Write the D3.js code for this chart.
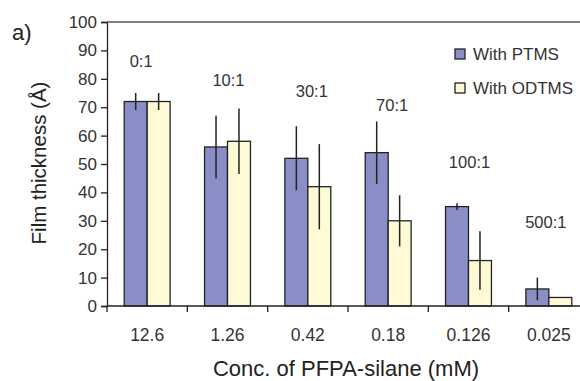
<!DOCTYPE html>
<html>
<head>
<meta charset="utf-8">
<script src="https://cdn.jsdelivr.net/npm/d3@7"></script>
<style>
  body { margin: 0; background: #fff; }
  svg { display: block; font-family: Arial, "Liberation Sans", sans-serif; }
</style>
</head>
<body>
<div class="container"></div>
<script>
// data
const concentrations = ['12.6', '1.26', '0.42', '0.18', '0.126', '0.025'];
const ratios = ['0:1', '10:1', '30:1', '70:1', '100:1', '500:1'];
const series = ['With PTMS', 'With ODTMS'];
const ptms = [72, 56, 52, 54, 35, 6];
const ptmsErr = [3, 11, 11.3, 11, 1.2, 4];
const odtms = [72, 58, 42, 30, 16, 3];
const odtmsErr = [3, 11.5, 15, 9, 10.3, 0];
const yTicks = [0, 10, 20, 30, 40, 50, 60, 70, 80, 90, 100];

const width = 580, height = 381;
const margin = {top: 22, right: -9, bottom: 75, left: 107};
const colors = ['#8a8ec6', '#fffad6'];
const ink = '#222';
const textCol = '#333';

const svg = d3.select('.container')
    .append('svg')
    .attr('width', width)
    .attr('height', height);

const x = d3.scaleBand()
    .domain(concentrations)
    .range([margin.left, width - margin.right])
    .paddingInner(0)
    .paddingOuter(0);

const xInner = d3.scaleBand()
    .domain(series)
    .range([0, x.bandwidth()])
    .paddingOuter(0.75)
    .paddingInner(0);

const y = d3.scaleLinear()
    .domain([0, 100])
    .range([height - margin.bottom, margin.top]);

const rows = concentrations.map((c, i) => ({
    c,
    ratio: ratios[i],
    vals: [
        {s: series[0], v: ptms[i], e: ptmsErr[i]},
        {s: series[1], v: odtms[i], e: odtmsErr[i]}
    ]
}));

// bars
const group = svg.append('g')
    .selectAll('g')
    .data(rows)
    .join('g')
    .attr('transform', d => `translate(${x(d.c)},0)`);

group.selectAll('rect')
    .data(d => d.vals)
    .join('rect')
    .attr('x', d => xInner(d.s))
    .attr('y', d => y(d.v))
    .attr('width', xInner.bandwidth())
    .attr('height', d => y(0) - y(d.v))
    .attr('fill', (d, i) => colors[i])
    .attr('stroke', ink)
    .attr('stroke-width', 1.3);

// error bars
group.selectAll('line.err')
    .data(d => d.vals.filter(v => v.e > 0))
    .join('line')
    .attr('class', 'err')
    .attr('x1', d => xInner(d.s) + xInner.bandwidth() / 2)
    .attr('x2', d => xInner(d.s) + xInner.bandwidth() / 2)
    .attr('y1', d => y(d.v + d.e))
    .attr('y2', d => y(d.v - d.e))
    .attr('stroke', ink)
    .attr('stroke-width', 1.5);

// ratio labels above each group (hand placed, as in the figure)
const labelDx = [-6, 1, 4, 4, 1, -3];
const labelY = [67, 86, 97, 111, 168, 228];
group.append('text')
    .attr('x', (d, i) => x.bandwidth() / 2 + labelDx[i])
    .attr('y', (d, i) => labelY[i])
    .attr('text-anchor', 'middle')
    .attr('font-size', 16.5)
    .attr('fill', textCol)
    .text(d => d.ratio);

// y axis
const yAxis = svg.append('g')
    .attr('transform', `translate(${margin.left},0)`)
    .call(d3.axisLeft(y).tickValues(yTicks).tickSize(6).tickPadding(4));
yAxis.select('.domain').attr('stroke', ink).attr('stroke-width', 1.3);
yAxis.selectAll('.tick line').attr('stroke', ink).attr('stroke-width', 1.3);
yAxis.selectAll('.tick text')
    .attr('font-size', 17)
    .attr('fill', textCol)
    .attr('font-family', 'Arial, "Liberation Sans", sans-serif');

// x axis: ticks between categories
const xAxis = svg.append('g')
    .attr('transform', `translate(0,${y(0)})`);
xAxis.append('line')
    .attr('x1', margin.left)
    .attr('x2', width)
    .attr('stroke', ink)
    .attr('stroke-width', 1.3);
xAxis.selectAll('line.tick')
    .data(concentrations)
    .join('line')
    .attr('class', 'tick')
    .attr('x1', d => x(d))
    .attr('x2', d => x(d))
    .attr('y1', 0)
    .attr('y2', 6)
    .attr('stroke', ink)
    .attr('stroke-width', 1.3);
xAxis.selectAll('text')
    .data(concentrations)
    .join('text')
    .attr('x', d => x(d) + x.bandwidth() / 2)
    .attr('y', 35)
    .attr('text-anchor', 'middle')
    .attr('font-size', 17.5)
    .attr('fill', textCol)
    .text(d => d);

// top frame line
svg.append('line')
    .attr('x1', margin.left)
    .attr('x2', width)
    .attr('y1', y(100))
    .attr('y2', y(100))
    .attr('stroke', '#555')
    .attr('stroke-width', 1.3);

// axis titles
svg.append('text')
    .attr('x', 346)
    .attr('y', 376)
    .attr('text-anchor', 'middle')
    .attr('font-size', 22)
    .attr('fill', '#222')
    .text('Conc. of PFPA-silane (mM)');

svg.append('text')
    .attr('transform', 'translate(46,163) rotate(-90)')
    .attr('text-anchor', 'middle')
    .attr('font-size', 20.5)
    .attr('fill', '#222')
    .text('Film thickness (Å)');

svg.append('text')
    .attr('x', 12)
    .attr('y', 40)
    .attr('font-size', 22)
    .attr('fill', '#222')
    .text('a)');

// legend
const legend = svg.append('g')
    .selectAll('g')
    .data(series)
    .join('g')
    .attr('transform', (d, i) => `translate(455,${49 + i * 34})`);
legend.append('rect')
    .attr('width', 10)
    .attr('height', 10)
    .attr('fill', (d, i) => colors[i])
    .attr('stroke', ink)
    .attr('stroke-width', 1.3);
legend.append('text')
    .attr('x', 18)
    .attr('y', 11)
    .attr('font-size', 17)
    .attr('fill', textCol)
    .text(d => d);
</script>
</body>
</html>
